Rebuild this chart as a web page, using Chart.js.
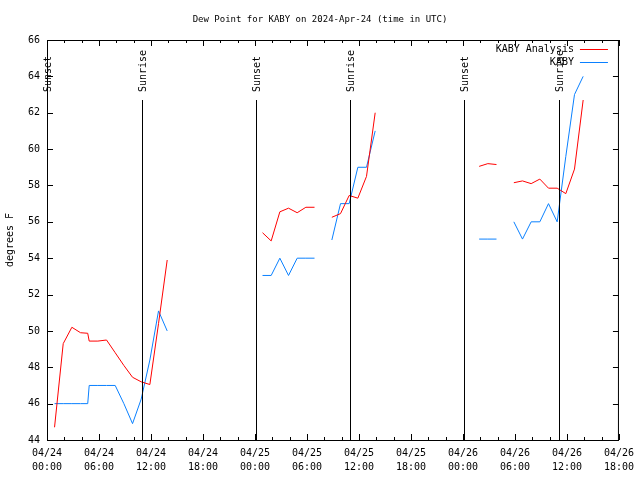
<!DOCTYPE html>
<html>
<head>
<meta charset="utf-8">
<script src="https://cdn.jsdelivr.net/npm/chart.js@4.4.1/dist/chart.umd.min.js"></script>
<style>
  html, body { margin: 0; padding: 0; background: #fff; }
  #wrap { width: 640px; height: 480px; }
</style>
</head>
<body>
<div id="wrap"><canvas id="dewChart" width="640" height="480"></canvas></div>
<script>
// hours after 04/24 00:00 UTC (null rows break the lines)
const hours = [0.87, 1.87, 2.87, 3.87, 4.70, 4.87, 5.87, 6.87, 7.87, 8.87, 9.87, 10.87, 11.87, 12.87, 13.87, 19,
  24.87, 25.87, 26.87, 27.87, 28.87, 29.87, 30.87, 31.87,
  32.87, 33.87, 34.87, 35.87, 36.87, 37.87, 43,
  49.87, 50.87, 51.87, 52.87,
  53.87, 54.87, 55.87, 56.87, 57.87, 58.87, 59.87, 60.87, 61.87];

const analysis = [44.7, 49.3, 50.2, 49.9, 49.87, 49.44, 49.44, 49.5, 48.8, 48.1, 47.45, 47.2, 47.05, 50.4, 53.9, null,
  55.4, 54.95, 56.55, 56.75, 56.5, 56.8, 56.8, null,
  56.25, 56.45, 57.45, 57.3, 58.5, 62.0, null,
  59.05, 59.2, 59.15, null,
  58.15, 58.25, 58.1, 58.35, 57.85, 57.85, 57.55, 58.9, 62.7];

const observed = [46, 46, 46, 46, 46, 47, 47, 47, 47, 46, 44.9, 46.25, 48.4, 51.1, 50, null,
  53.05, 53.05, 54, 53.05, 54, 54, 54, null,
  55, 57, 57, 59, 59, 61, null,
  55.05, 55.05, 55.05, null,
  56, 55.05, 56, 56, 57, 56, 59.6, 63, 64];

const sunTimes = [0.05, 10.96, 24.07, 34.98, 48.07, 59.03];
const sunLabels = ['Sunset', 'Sunrise', 'Sunset', 'Sunrise', 'Sunset', 'Sunrise'];

const tickDays = ['04/24', '04/25', '04/26'];
const seriesNames = ['KABY Analysis', 'KABY'];
const seriesColors = ['#ff0000', '#0a80ff'];

const FONT = '"DejaVu Sans Mono", monospace';

function toPoints(ys) {
  return hours.map((h, i) => ({ x: h, y: ys[i] }));
}

// frame, inward ticks, sunrise/sunset markers and legend, gnuplot style
const gnuplotDecor = {
  id: 'gnuplotDecor',
  afterDatasetsDraw(chart) {
    const ctx = chart.ctx;
    const area = chart.chartArea;
    const xs = chart.scales.x;
    const ys = chart.scales.y;
    ctx.save();
    ctx.strokeStyle = '#000';
    ctx.lineWidth = 1;

    // sun markers
    ctx.font = '10px ' + FONT;
    ctx.fillStyle = '#000';
    sunTimes.forEach((t, i) => {
      const px = Math.round(xs.getPixelForValue(t)) + 0.5;
      ctx.beginPath();
      ctx.moveTo(px, area.top + 60);
      ctx.lineTo(px, area.bottom);
      ctx.stroke();
      ctx.save();
      ctx.translate(px + 1, area.top + 52);
      ctx.rotate(-Math.PI / 2);
      ctx.textAlign = 'left';
      ctx.textBaseline = 'middle';
      ctx.fillText(sunLabels[i], 0, 0);
      ctx.restore();
    });

    // border
    ctx.strokeRect(area.left + 0.5, area.top + 0.5, area.right - area.left - 1, area.bottom - area.top);

    // x ticks every 2h, longer every 6h
    ctx.beginPath();
    for (let h = xs.min; h <= xs.max; h += 2) {
      const px = Math.round(xs.getPixelForValue(h)) + 0.5;
      const len = h % 6 === 0 ? 6 : 3;
      ctx.moveTo(px, area.bottom);
      ctx.lineTo(px, area.bottom - len);
      ctx.moveTo(px, area.top);
      ctx.lineTo(px, area.top + len);
    }
    // y ticks every 2 degrees
    for (let v = ys.min; v <= ys.max; v += 2) {
      const py = Math.round(ys.getPixelForValue(v)) + 0.5;
      ctx.moveTo(area.left, py);
      ctx.lineTo(area.left + 6, py);
      ctx.moveTo(area.right, py);
      ctx.lineTo(area.right - 6, py);
    }
    ctx.stroke();

    // legend
    ctx.textAlign = 'right';
    ctx.textBaseline = 'middle';
    seriesNames.forEach((name, i) => {
      const ly = area.top + 9 + i * 13;
      ctx.fillStyle = '#000';
      ctx.fillText(name, area.right - 45, ly);
      ctx.strokeStyle = seriesColors[i];
      ctx.beginPath();
      ctx.moveTo(area.right - 39, ly + 0.5);
      ctx.lineTo(area.right - 11, ly + 0.5);
      ctx.stroke();
    });
    ctx.restore();
  }
};

const ctx = document.getElementById('dewChart').getContext('2d');
new Chart(ctx, {
  type: 'line',
  data: {
    datasets: [{
      label: seriesNames[0],
      data: toPoints(analysis),
      borderColor: seriesColors[0],
      borderWidth: 1,
      pointRadius: 0,
      tension: 0,
      spanGaps: false
    }, {
      label: seriesNames[1],
      data: toPoints(observed),
      borderColor: seriesColors[1],
      borderWidth: 1,
      pointRadius: 0,
      tension: 0,
      spanGaps: false
    }]
  },
  options: {
    responsive: false,
    animation: false,
    layout: {
      padding: 0
    },
    plugins: {
      legend: { display: false },
      tooltip: { enabled: false },
      title: {
        display: true,
        text: 'Dew Point for KABY on 2024-Apr-24 (time in UTC)',
        color: '#000',
        font: { family: FONT, size: 9, weight: 'normal', lineHeight: '12px' },
        padding: { top: 14, bottom: 14 }
      }
    },
    scales: {
      x: {
        type: 'linear',
        min: 0,
        max: 66,
        grid: { display: false, drawTicks: false },
        border: { display: false },
        afterFit: (scale) => { scale.height = 40; },
        ticks: {
          stepSize: 6,
          maxRotation: 0,
          autoSkip: false,
          padding: 6,
          color: '#000',
          font: { family: FONT, size: 10, lineHeight: 1.4 },
          callback: (value) => {
            const day = Math.floor(value / 24);
            const hh = String(value % 24).padStart(2, '0');
            return [tickDays[day], hh + ':00'];
          }
        }
      },
      y: {
        min: 44,
        max: 66,
        grid: { display: false, drawTicks: false },
        border: { display: false },
        afterFit: (scale) => { scale.width = 47; },
        title: {
          display: true,
          text: 'degrees F',
          color: '#000',
          font: { family: FONT, size: 10 }
        },
        ticks: {
          stepSize: 2,
          padding: 7,
          color: '#000',
          font: { family: FONT, size: 10 }
        }
      },
      // empty right margin so the title centres on the whole canvas
      yRight: {
        position: 'right',
        min: 44,
        max: 66,
        grid: { display: false, drawTicks: false },
        border: { display: false },
        ticks: { display: false },
        afterFit: (scale) => { scale.width = 19; }
      }
    }
  },
  plugins: [gnuplotDecor]
});
</script>
</body>
</html>
